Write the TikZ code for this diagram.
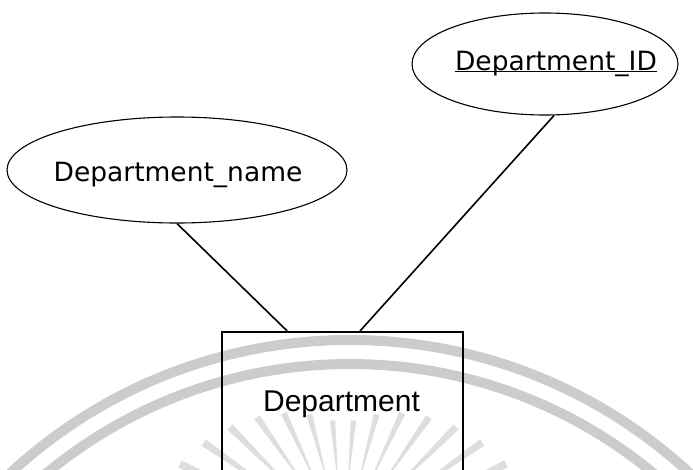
\documentclass[tikz,border=0pt]{standalone}
\usepackage{fontspec}
\setmainfont{DejaVu Sans}
\newfontfamily\entfont{Liberation Sans}
\usetikzlibrary{shapes.geometric,calc}
\tikzset{
  attrshape/.style={draw=black, ellipse, line width=1.1pt, inner sep=0pt},
  attrtext/.style={font=\fontsize{26.5}{30}\selectfont, inner sep=0pt, anchor=base},
  entshape/.style={draw=black, rectangle, line width=1.6pt, inner sep=0pt, anchor=north},
  enttext/.style={font=\entfont\fontsize{30}{34}\selectfont, inner sep=0pt, anchor=base},
  link/.style={draw=black, line width=1.6pt},
  wmarc/.style={draw=black!20, line width=10pt},
  wmray/.style={fill=black!13}
}
\begin{document}
\begin{tikzpicture}[x=1pt, y=-1pt]
  \useasboundingbox (0,0) rectangle (693,469);
  \clip (0,0) rectangle (693,469);
  \fill[white] (0,0) rectangle (693,469);

  % faint seal in the background: two rings and a fan of tapered rays
  \draw[wmarc] (350,840) circle[radius=500];
  \draw[wmarc] (350,840) circle[radius=476];
  \coordinate (hub) at (343,540);
  \foreach \a in {25,35,...,155} {
    \pgfmathsetmacro\rtop{115+45*abs(\a-90)/45}
    \fill[wmray] ($(hub)+(-\a:55)$) -- ($(hub)+(-\a-1.3:\rtop)$)
      -- ($(hub)+(-\a+1.3:\rtop)$) -- cycle;
  }

  % attributes
  \node[attrshape, minimum width=340pt, minimum height=106pt] (nameattr) at (177,170) {};
  \node[attrtext] (nametxt) at (178,181.5) {Department\_name};

  \node[attrshape, minimum width=266pt, minimum height=102pt] (idattr) at (545,64) {};
  \node[attrtext] (idtxt) at (556,70.5) {Department\_ID};
  \draw[line width=1.5pt] ([yshift=-1pt]idtxt.base west) -- ([yshift=-1pt]idtxt.base east);

  % entity
  \node[entshape, minimum width=241pt, minimum height=170pt] (ent) at (342.5,331) {};
  \node[enttext] (enttxt) at (341.5,411) {Department};

  % attribute links
  \draw[link] (nameattr.south) -- ([xshift=66pt]ent.north west);
  \draw[link] (idattr.-80) -- ([xshift=17.5pt]ent.north);
\end{tikzpicture}
\end{document}
